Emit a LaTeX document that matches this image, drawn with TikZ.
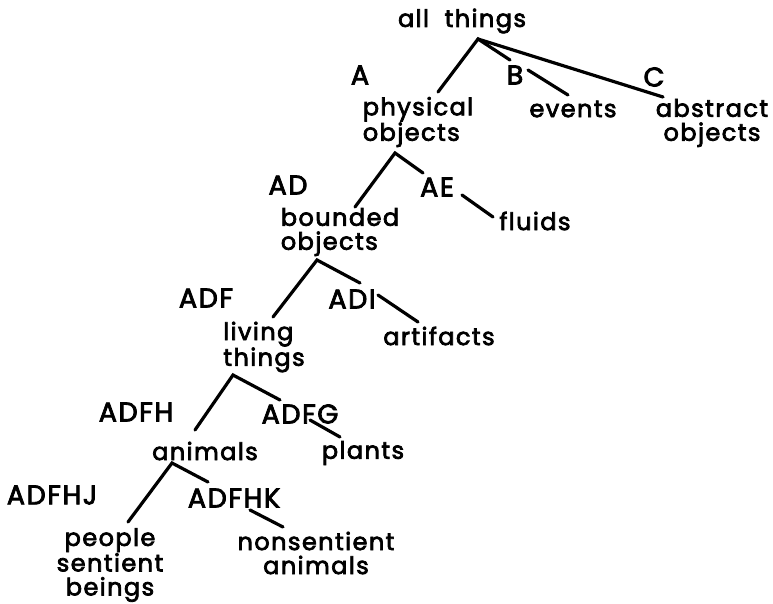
\documentclass[tikz,border=0pt]{standalone}
\usepackage{fontspec}
\setmainfont{Poppins}[LetterSpace=6, FakeBold=3, WordSpace=2]
\begin{document}
\begin{tikzpicture}[x=1pt,y=-1pt,
  lbl/.style={inner sep=0pt, font=\fontsize{27}{24}\selectfont},
  txt/.style={inner sep=0pt, align=center, font=\fontsize{24}{24}\selectfont},
  ltxt/.style={txt, align=left},
  edge/.style={line width=3.2pt, line cap=round}]
\useasboundingbox (0,0) rectangle (773,603);

% category names and their codes
\node[txt] (all) at (462,21) {all things};
\node[lbl] (A) at (360,75) {A};
\node[lbl] (B) at (515,75) {B};
\node[lbl] (C) at (654,77) {C};
\node[ltxt] (phys) at (418,122) {physical\\objects};
\node[txt] (events) at (573,109) {events};
\node[txt] (abstr) at (712,123) {abstract\\objects};
\node[lbl] (AD) at (288,185) {AD};
\node[lbl] (AE) at (437,187) {AE};
\node[txt] (fluids) at (535,221) {fluids};
\node[ltxt] (bounded) at (340,232) {bounded\\objects};
\node[lbl] (ADF) at (206,298) {ADF};
\node[lbl] (ADI) at (352,299) {ADI};
\node[ltxt] (living) at (264,347) {living\\things};
\node[txt] (artifacts) at (439,336) {artifacts};
\node[lbl] (ADFH) at (136,412) {ADFH};
\node[lbl] (ADFG) at (300,414) {ADFG};
\node[txt] (animals) at (205,451) {animals};
\node[txt] (plants) at (363,453) {plants};
\node[lbl] (ADFHJ) at (52,495) {ADFHJ};
\node[lbl] (ADFHK) at (234,498) {ADFHK};
\node[txt] (people) at (110,565) {people\\sentient\\beings};
\node[txt] (nonsent) at (316,553) {nonsentient\\animals};

% branch points and line ends
\coordinate (v0) at (478,39);
\coordinate (ePhys) at (438,92);
\coordinate (eB) at (510,60);
\coordinate (eC) at (663,97);
\coordinate (sB) at (528,70);
\coordinate (eEvents) at (568,95);
\coordinate (v1) at (395,153);
\coordinate (eBounded) at (355,207);
\coordinate (eAE) at (423,173);
\coordinate (sAE) at (462,195);
\coordinate (eFluids) at (493,217);
\coordinate (v2) at (317,260);
\coordinate (eLiving) at (273,317);
\coordinate (eADI) at (360,283);
\coordinate (sADI) at (378,295);
\coordinate (eArt) at (418,322);
\coordinate (v3) at (233,375);
\coordinate (eAnimals) at (195,430);
\coordinate (eADFG) at (280,400);
\coordinate (sADFG) at (310,420);
\coordinate (ePlants) at (340,437);
\coordinate (v4) at (172,463);
\coordinate (ePeople) at (128,522);
\coordinate (eADFHK) at (208,482);
\coordinate (sADFHK) at (250,510);
\coordinate (eNons) at (283,527);

% tree branches
\draw[edge] (ePhys) -- (v0) -- (eB);
\draw[edge] (v0) -- (eC);
\draw[edge] (sB) -- (eEvents);
\draw[edge] (eBounded) -- (v1) -- (eAE);
\draw[edge] (sAE) -- (eFluids);
\draw[edge] (eLiving) -- (v2) -- (eADI);
\draw[edge] (sADI) -- (eArt);
\draw[edge] (eAnimals) -- (v3) -- (eADFG);
\draw[edge] (sADFG) -- (ePlants);
\draw[edge] (ePeople) -- (v4) -- (eADFHK);
\draw[edge] (sADFHK) -- (eNons);
\end{tikzpicture}
\end{document}
